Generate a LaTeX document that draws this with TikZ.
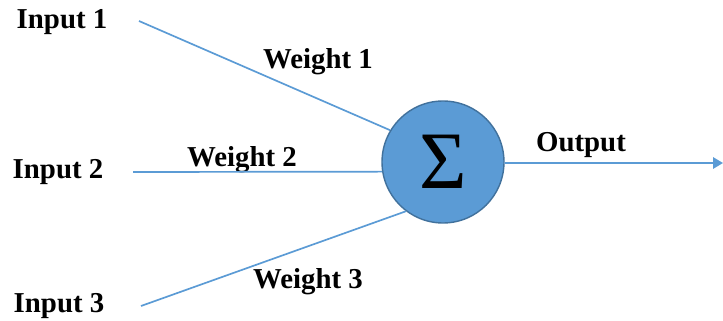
\documentclass[tikz,border=0pt]{standalone}
\usepackage{fontspec}
\setmainfont{Liberation Serif}
\usetikzlibrary{arrows.meta}
\definecolor{linkblue}{HTML}{5B9BD5}
\definecolor{rimblue}{HTML}{41719C}
\tikzset{
  lbl/.style={font=\fontsize{20.5}{24}\selectfont\bfseries, inner sep=0pt},
  link/.style={draw=linkblue, line width=1.2pt}
}
\begin{document}
\begin{tikzpicture}[x=0.025cm, y=-0.025cm]
\useasboundingbox (0,0) rectangle (723,321);
\node[circle, fill=linkblue, draw=rimblue, line width=1pt, minimum size=122*0.025cm, inner sep=0pt, font=\fontsize{58}{64}\selectfont] (sum) at (443,162) {Σ};
\node[lbl] (in1) at (62,22) {Input 1};
\node[lbl] (in2) at (58,172) {Input 2};
\node[lbl] (in3) at (59,306) {Input 3};
\node[lbl] (w1) at (318,62) {Weight 1};
\node[lbl] (w2) at (242,160) {Weight 2};
\node[lbl] (w3) at (308,282) {Weight 3};
\node[lbl] (out) at (581,145) {Output};
\coordinate (s1) at (139,21);
\coordinate (s2) at (133,172);
\coordinate (s3) at (141,306);
\coordinate (end) at (723,163);
\draw[link] (s1) -- (sum.149);
\draw[link] (s2) -- (sum.189);
\draw[link] (s3) -- (sum.233);
\draw[link, -{Triangle[length=7pt, width=8pt]}] (sum.-1) -- (end);
\end{tikzpicture}
\end{document}
